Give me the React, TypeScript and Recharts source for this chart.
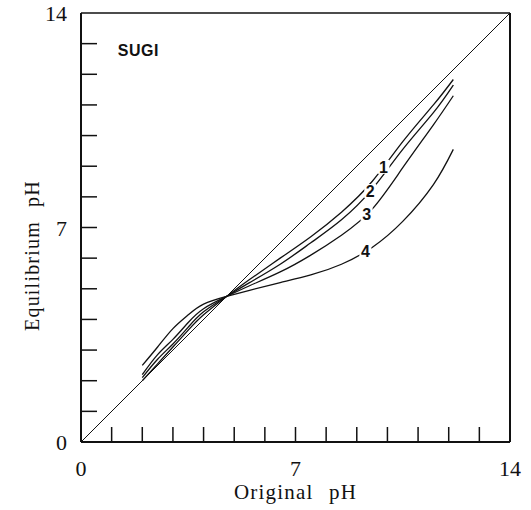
import React from 'react'
import {
  LineChart,
  Line,
  XAxis,
  YAxis,
  ReferenceLine,
  ReferenceDot,
  Label,
} from 'recharts'

// Original pH sampled along each curve
const originalPh = [2, 2.5, 3, 3.5, 4, 4.75, 5.5, 6.5, 7.5, 8.5, 9.5, 10.5, 11.5, 12.15]

// Equilibrium pH for samples 1-4
const curve1 = [2.0, 2.55, 3.1, 3.65, 4.15, 4.75, 5.3, 6.0, 6.7, 7.5, 8.5, 9.8, 11.0, 11.83]
const curve2 = [2.1, 2.7, 3.2, 3.75, 4.25, 4.75, 5.2, 5.8, 6.5, 7.25, 8.25, 9.55, 10.75, 11.65]
const curve3 = [2.2, 2.85, 3.35, 3.9, 4.35, 4.75, 5.1, 5.55, 6.1, 6.75, 7.6, 8.95, 10.35, 11.3]
const curve4 = [2.5, 3.1, 3.7, 4.15, 4.5, 4.75, 4.95, 5.2, 5.45, 5.8, 6.35, 7.2, 8.4, 9.55]

const curveNames = ['1', '2', '3', '4']
// where along Original pH each curve number is written
const labelAt = [9.87, 9.44, 9.32, 9.28]

const phTicks = [0, 1, 2, 3, 4, 5, 6, 7, 8, 9, 10, 11, 12, 13, 14]
const labelledTicks = [0, 7, 14]
const identity = [
  { x: 0, y: 0 },
  { x: 14, y: 14 },
]

const curves = [curve1, curve2, curve3, curve4].map((ys) =>
  originalPh.map((x, i) => ({ x, y: ys[i] }))
)

// linear interpolation on a curve, used to sit the number on its line
const valueAt = (pts: { x: number; y: number }[], x: number) => {
  for (let i = 1; i < pts.length; i++) {
    if (x <= pts[i].x) {
      const a = pts[i - 1]
      const b = pts[i]
      return a.y + ((x - a.x) / (b.x - a.x)) * (b.y - a.y)
    }
  }
  return pts[pts.length - 1].y
}

const serif = '"Liberation Serif", "DejaVu Serif", serif'
const sans = '"Liberation Sans", "DejaVu Sans", sans-serif'

const XTick = (props: any) => {
  const { x, y, payload } = props
  const v = payload.value
  return (
    <g>
      {v > 0 && v < 14 && (
        <line x1={x} y1={y} x2={x} y2={y - 15} stroke="#111" strokeWidth={1.5} />
      )}
      {labelledTicks.includes(v) && (
        <text x={x} y={y + 34} textAnchor="middle" fontFamily={serif} fontSize={22} fill="#111">
          {v}
        </text>
      )}
    </g>
  )
}

const YTick = (props: any) => {
  const { x, y, payload } = props
  const v = payload.value
  return (
    <g>
      {v > 0 && v < 14 && (
        <line x1={x} y1={y} x2={x + 16} y2={y} stroke="#111" strokeWidth={1.5} />
      )}
      {labelledTicks.includes(v) && (
        <text x={x - 14} y={y + 8} textAnchor="end" fontFamily={serif} fontSize={22} fill="#111">
          {v}
        </text>
      )}
    </g>
  )
}

const CurveNumber = (name: string) => (props: any) => {
  const { viewBox } = props
  const cx = viewBox.x
  const cy = viewBox.y
  return (
    <g>
      <rect x={cx - 6} y={cy - 7} width={12} height={14} fill="#fff" />
      <text
        x={cx}
        y={cy + 6}
        textAnchor="middle"
        fontFamily={sans}
        fontWeight="bold"
        fontSize={16}
        fill="#111"
      >
        {name}
      </text>
    </g>
  )
}

const App: React.FC = () => {
  return (
    <div style={{ position: 'absolute', left: 0, top: 0, width: 531, height: 510, background: '#fff' }}>
      <LineChart
        width={531}
        height={510}
        margin={{ top: 13, right: 21, bottom: 67, left: 80 }}
      >
        <XAxis
          dataKey="x"
          type="number"
          domain={[0, 14]}
          ticks={phTicks}
          interval={0}
          height={1}
          tickSize={0}
          tickMargin={0}
          tickLine={false}
          tick={<XTick />}
          axisLine={{ stroke: '#111', strokeWidth: 2 }}
          allowDataOverflow
        >
          <Label
            content={(p: any) => (
              <text
                x={p.viewBox.x + p.viewBox.width / 2}
                y={p.viewBox.y + 57}
                textAnchor="middle"
                fontFamily={serif}
                fontSize={21}
                letterSpacing={1.2}
                wordSpacing={9}
                fill="#111"
              >
                Original pH
              </text>
            )}
          />
        </XAxis>
        <YAxis
          dataKey="y"
          type="number"
          domain={[0, 14]}
          ticks={phTicks}
          interval={0}
          width={1}
          tickSize={0}
          tickMargin={0}
          tickLine={false}
          tick={<YTick />}
          axisLine={{ stroke: '#111', strokeWidth: 2 }}
          allowDataOverflow
        >
          <Label
            content={(p: any) => {
              const cx = 39
              const cy = p.viewBox.y + p.viewBox.height / 2 + 28
              return (
                <text
                  x={cx}
                  y={cy}
                  transform={`rotate(-90 ${cx} ${cy})`}
                  textAnchor="middle"
                  fontFamily={serif}
                  fontSize={20}
                  letterSpacing={1.2}
                  wordSpacing={8}
                  fill="#111"
                >
                  Equilibrium pH
                </text>
              )
            }}
          />
        </YAxis>

        {/* frame: top and right edges */}
        <ReferenceLine y={14} stroke="#111" strokeWidth={1.6} />
        <ReferenceLine x={14} stroke="#111" strokeWidth={2} />

        {/* 1:1 line */}
        <Line
          data={identity}
          dataKey="y"
          stroke="#111"
          strokeWidth={1}
          dot={false}
          type="linear"
          isAnimationActive={false}
        />

        {curves.map((pts, i) => (
          <Line
            key={curveNames[i]}
            data={pts}
            dataKey="y"
            stroke="#111"
            strokeWidth={1.3}
            dot={false}
            type="natural"
            isAnimationActive={false}
          />
        ))}

        {curves.map((pts, i) => (
          <ReferenceDot
            key={`n-${curveNames[i]}`}
            x={labelAt[i]}
            y={valueAt(pts, labelAt[i])}
            r={0}
            fill="none"
            stroke="none"
            label={CurveNumber(curveNames[i])}
          />
        ))}

        <ReferenceDot
          x={1.2}
          y={12.8}
          r={0}
          fill="none"
          stroke="none"
          label={(p: any) => (
            <text
              x={p.viewBox.x}
              y={p.viewBox.y + 6}
              fontFamily={sans}
              fontWeight="bold"
              fontSize={16}
              letterSpacing={0.5}
              fill="#111"
            >
              SUGI
            </text>
          )}
        />
      </LineChart>
    </div>
  )
}

export default App
